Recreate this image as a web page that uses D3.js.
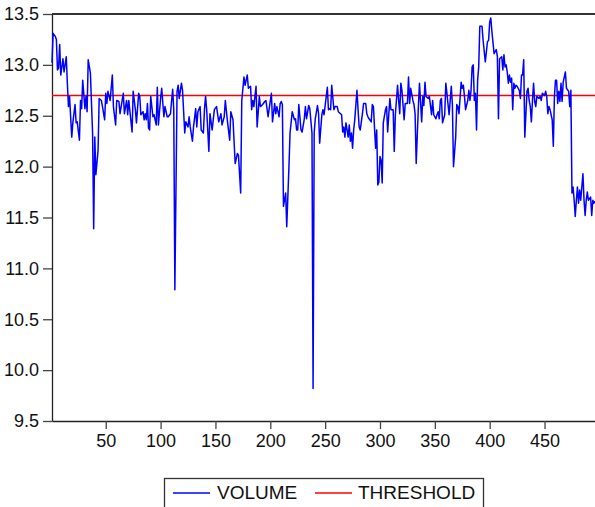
<!DOCTYPE html>
<html>
<head>
<meta charset="utf-8">
<script src="https://cdn.jsdelivr.net/npm/d3@7"></script>
<style>
  html, body { margin: 0; padding: 0; background: #fff; }
  svg { display: block; font-family: "Liberation Sans", Arial, sans-serif; }
</style>
</head>
<body>
<svg id="chart" width="595" height="507"></svg>
<script>
const obsIdx = [
  1,2,4,5,6,7,8,9,11,12,14,15,16,17,19,20,22,23,24,26,27,28,29,31,32,33,34,36,38,39,40,41,43,44,46,47,49,50,
  51,52,54,56,57,59,60,62,63,66,67,69,70,71,74,75,77,78,80,81,82,84,85,86,87,88,89,90,91,93,94,96,97,98,100,
  101,103,104,106,107,109,111,112,113,115,116,117,119,120,122,123,125,126,127,129,130,132,133,134,136,137,139,140,
  141,142,144,145,147,149,151,153,155,156,158,159,161,163,164,166,168,170,171,173,174,176,177,179,180,182,183,184,
  185,187,188,190,191,193,195,196,198,199,201,202,204,205,206,208,209,210,211,212,214,215,217,218,220,222,223,224,
  225,226,228,229,231,232,233,235,236,238,239,240,241,243,244,245,247,248,249,251,252,253,254,255,256,258,259,261,
  262,264,265,266,267,268,269,271,272,273,274,275,276,277,279,280,281,282,284,285,287,288,289,290,292,293,294,296,
  297,298,299,300,301,302,303,305,306,307,309,310,312,313,314,316,317,318,319,320,322,323,325,326,327,328,330,331,
  332,333,335,336,338,339,340,341,342,344,345,347,348,349,351,352,353,354,355,356,357,359,360,361,363,364,365,366,
  367,369,370,371,372,374,375,376,377,378,380,381,382,383,384,385,386,387,388,389,390,391,393,394,396,397,398,399,
  400,401,402,404,406,407,408,409,411,412,413,414,415,416,417,418,419,420,421,422,423,424,425,427,428,429,430,431,
  432,434,435,436,437,438,439,440,441,442,443,445,446,447,448,450,451,452,453,454,455,457,458,459,460,461,462,463,
  464,465,466,467,469,470,472,473,474,475,476,477,478,479,480,481,482,483,485,486,487,488,489,490,492,493,494,495,496
];
const volume = [
  13.02,13.31,13.28,13.25,12.95,12.97,13.20,12.90,13.06,12.93,13.08,12.82,12.59,12.69,12.29,12.43,12.61,12.43,12.44,12.26,12.65,12.57,12.85,12.57,12.69,12.54,13.05,12.92,12.33,11.39,12.29,11.92,12.16,12.67,12.65,12.59,12.46,12.72,
  12.62,12.74,12.65,12.90,12.59,12.41,12.65,12.64,12.52,12.72,12.52,12.65,12.51,12.65,12.34,12.74,12.56,12.43,12.72,12.69,12.51,12.54,12.46,12.52,12.46,12.62,12.38,12.36,12.69,12.49,12.51,12.41,12.78,12.41,12.67,
  12.77,12.49,12.59,12.49,12.49,12.52,12.76,12.56,10.79,12.74,12.80,12.67,12.82,12.75,12.33,12.44,12.39,12.49,12.39,12.25,12.39,12.57,12.39,12.54,12.59,12.36,12.33,12.56,
  12.69,12.56,12.15,12.52,12.36,12.56,12.59,12.44,12.52,12.41,12.49,12.65,12.44,12.26,12.54,12.46,12.03,12.13,12.11,11.74,12.65,12.88,12.80,12.90,12.77,12.79,12.56,12.65,
  12.59,12.79,12.39,12.69,12.59,12.61,12.64,12.65,12.49,12.57,12.72,12.44,12.62,12.52,12.59,12.49,12.62,12.64,12.61,11.61,11.74,11.41,12.00,12.33,12.54,12.46,12.47,12.36,
  12.36,12.61,12.36,12.34,12.47,12.59,12.47,12.60,12.57,12.33,9.82,12.33,12.47,12.60,12.52,12.23,12.51,12.56,12.51,12.69,12.78,12.56,12.57,12.56,12.80,12.56,12.59,12.59,
  12.54,12.52,12.51,12.34,12.39,12.29,12.43,12.29,12.41,12.25,12.33,12.18,12.36,12.46,12.75,12.56,12.39,12.36,12.52,12.62,12.62,12.52,12.49,12.47,12.44,12.61,12.59,12.18,
  12.36,11.82,11.85,12.10,12.06,11.84,12.43,12.56,12.59,12.34,12.67,12.56,12.56,12.15,12.51,12.80,12.65,12.52,12.82,12.75,12.46,12.62,12.62,12.88,12.62,12.77,12.65,12.61,
  12.52,12.03,12.59,12.82,12.44,12.69,12.60,12.83,12.69,12.67,12.69,12.51,12.65,12.51,12.47,12.51,12.54,12.47,12.65,12.67,12.43,12.51,12.82,12.72,12.51,12.65,12.79,12.61,
  12.00,12.29,12.61,12.59,12.52,12.83,12.77,12.80,12.69,12.56,12.65,12.75,12.65,12.75,12.98,13.00,12.65,12.72,12.36,12.85,12.98,13.38,13.38,13.24,13.03,13.13,13.23,13.24,
  13.42,13.46,13.33,13.11,13.15,13.08,12.47,13.06,13.08,12.95,13.10,12.98,13.00,12.93,12.82,12.90,12.83,12.87,12.56,12.82,12.77,12.80,12.79,12.75,12.67,12.90,12.90,13.05,
  12.29,12.74,12.77,12.65,12.59,12.44,12.65,12.82,12.64,12.59,12.69,12.67,12.69,12.65,12.72,12.70,12.74,12.69,12.52,12.59,12.56,12.46,12.20,12.69,12.85,12.85,12.62,12.74,
  12.64,12.82,12.64,12.83,12.93,12.77,12.74,12.59,12.75,11.74,11.80,11.67,11.51,11.67,11.80,11.64,11.77,11.67,11.93,11.67,11.52,11.67,11.75,11.67,11.70,11.52,11.67,11.64,11.66
];
const threshold = 12.70;
const xTicks = [50, 100, 150, 200, 250, 300, 350, 400, 450];
const yTicks = [9.5, 10.0, 10.5, 11.0, 11.5, 12.0, 12.5, 13.0, 13.5];
const seriesNames = ['VOLUME', 'THRESHOLD'];
const seriesColors = ['#0000ff', '#ff0000'];

const svg = d3.select('#chart');
const plot = {left: 52, right: 595, top: 14, bottom: 421};

const x = d3.scaleLinear().domain([1, 496]).range([plot.left, plot.right]);
const y = d3.scaleLinear().domain([9.5, 13.5]).range([plot.bottom, plot.top]);

// frame top
svg.append('line')
  .attr('x1', plot.left).attr('x2', plot.right)
  .attr('y1', plot.top).attr('y2', plot.top)
  .attr('stroke', '#333').attr('stroke-width', 2);

// axes
const yAxis = svg.append('g')
  .attr('transform', `translate(${plot.left},0)`)
  .call(d3.axisLeft(y).tickValues(yTicks).tickFormat(d3.format('.1f')).tickSize(9).tickPadding(4).tickSizeOuter(0));
const xAxis = svg.append('g')
  .attr('transform', `translate(0,${plot.bottom})`)
  .call(d3.axisBottom(x).tickValues(xTicks).tickSize(8).tickPadding(5).tickSizeOuter(0));

[yAxis, xAxis].forEach(g => {
  g.select('.domain').attr('stroke', '#222').attr('stroke-width', 1.3);
  g.selectAll('.tick line').attr('stroke', '#444').attr('stroke-width', 1.3);
  g.selectAll('.tick text')
    .attr('fill', '#111')
    .style('font-family', '"Liberation Sans", Arial, sans-serif')
    .style('font-size', '18px');
});

// threshold line
svg.append('line')
  .attr('x1', x(1)).attr('x2', x(496))
  .attr('y1', y(threshold)).attr('y2', y(threshold))
  .attr('stroke', seriesColors[1]).attr('stroke-width', 1.5);

// volume series
const pts = obsIdx.map((o, i) => [o, volume[i]]);
const line = d3.line().x(d => x(d[0])).y(d => y(d[1]));
svg.append('path')
  .datum(pts)
  .attr('fill', 'none')
  .attr('stroke', seriesColors[0])
  .attr('stroke-width', 1.5)
  .attr('stroke-linejoin', 'round')
  .attr('d', line);

// legend
const lg = svg.append('g').attr('transform', 'translate(164,478)');
lg.append('rect')
  .attr('x', 0.5).attr('y', 0.5).attr('width', 319).attr('height', 40)
  .attr('fill', '#fff').attr('stroke', '#333').attr('stroke-width', 1.3);
const items = [{x: 9, tx: 53}, {x: 151, tx: 194}];
items.forEach((it, i) => {
  lg.append('line')
    .attr('x1', it.x).attr('x2', it.x + 37)
    .attr('y1', 15).attr('y2', 15)
    .attr('stroke', seriesColors[i]).attr('stroke-width', 1.3);
  lg.append('text')
    .attr('x', it.tx).attr('y', 21)
    .attr('fill', '#111')
    .style('font-size', '19px')
    .text(seriesNames[i]);
});
</script>
</body>
</html>
